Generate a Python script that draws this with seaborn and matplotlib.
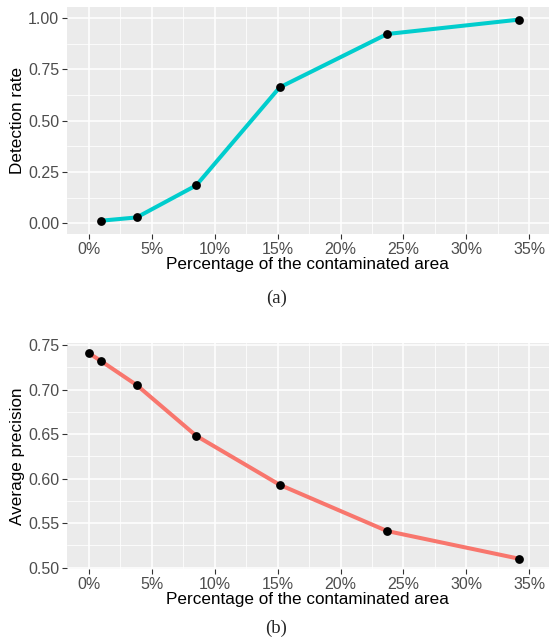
import numpy as np
import pandas as pd
import matplotlib
matplotlib.use("Agg")
import matplotlib.pyplot as plt
import seaborn as sns
from matplotlib.ticker import PercentFormatter, MultipleLocator, FormatStrFormatter

# Values
area_a = [0.0098, 0.0381, 0.0854, 0.1516, 0.2370, 0.3415]
detection = [0.013, 0.029, 0.185, 0.662, 0.922, 0.992]

area_b = [0.0, 0.0098, 0.0381, 0.0854, 0.1516, 0.2370, 0.3415]
avg_precision = [0.741, 0.732, 0.705, 0.648, 0.593, 0.541, 0.510]

x_ticks = [0.0, 0.05, 0.10, 0.15, 0.20, 0.25, 0.30, 0.35]

df_a = pd.DataFrame({"area": area_a, "value": detection})
df_b = pd.DataFrame({"area": area_b, "value": avg_precision})

sns.set_theme(style="darkgrid", rc={
    "axes.facecolor": "#EBEBEB",
    "grid.color": "white",
    "axes.edgecolor": "none",
    "xtick.bottom": True,
    "ytick.left": True,
    "xtick.color": "#333333",
    "ytick.color": "#333333",
    "xtick.major.size": 3.5,
    "ytick.major.size": 3.5,
    "xtick.major.width": 0.8,
    "ytick.major.width": 0.8,
    "xtick.major.pad": 2,
    "ytick.major.pad": 2,
})
plt.rcParams["font.family"] = ["Liberation Sans", "DejaVu Sans"]

fig = plt.figure(figsize=(5.49, 6.43), dpi=100)
ax1 = fig.add_axes([0.1215, 0.636, 0.8785, 0.3526])
ax2 = fig.add_axes([0.1215, 0.1146, 0.8785, 0.3524])


def style_axis(ax, ylabel, ylim, yticks, yminor):
    ax.set_xlim(-0.0175, 0.3656)
    ax.set_ylim(*ylim)
    ax.set_xticks(x_ticks)
    ax.xaxis.set_major_formatter(PercentFormatter(xmax=1, decimals=0))
    ax.xaxis.set_minor_locator(MultipleLocator(0.025))
    ax.set_yticks(yticks)
    ax.yaxis.set_major_formatter(FormatStrFormatter("%.2f"))
    ax.yaxis.set_minor_locator(MultipleLocator(yminor))
    ax.grid(which="major", color="white", linewidth=1.1)
    ax.grid(which="minor", color="white", linewidth=0.55)
    ax.tick_params(axis="both", which="major", labelsize=11.5, labelcolor="#4D4D4D")
    ax.tick_params(axis="both", which="minor", length=0)
    ax.set_xlabel("Percentage of the contaminated area", fontsize=12.3, color="black", labelpad=0)
    ax.set_ylabel(ylabel, fontsize=12.3, color="black", labelpad=2)
    for s in ax.spines.values():
        s.set_visible(False)


sns.lineplot(data=df_a, x="area", y="value", ax=ax1, color="#00CDCD", linewidth=2.9, zorder=2)
sns.scatterplot(data=df_a, x="area", y="value", ax=ax1, color="black", s=40, edgecolor="black",
                linewidth=0, zorder=3)
style_axis(ax1, "Detection rate", (-0.052, 1.052), [0.0, 0.25, 0.5, 0.75, 1.0], 0.125)

sns.lineplot(data=df_b, x="area", y="value", ax=ax2, color="#F8766D", linewidth=2.9, zorder=2)
sns.scatterplot(data=df_b, x="area", y="value", ax=ax2, color="black", s=40, edgecolor="black",
                linewidth=0, zorder=3)
style_axis(ax2, "Average precision", (0.498, 0.7526), [0.50, 0.55, 0.60, 0.65, 0.70, 0.75], 0.025)

fig.text(0.503, 1 - 298 / 643, "(a)", ha="center", va="center", fontsize=13.5,
         family=["Liberation Serif", "DejaVu Serif"])
fig.text(0.503, 1 - 628 / 643, "(b)", ha="center", va="center", fontsize=13.5,
         family=["Liberation Serif", "DejaVu Serif"])

fig.savefig("out.png", dpi=100)
